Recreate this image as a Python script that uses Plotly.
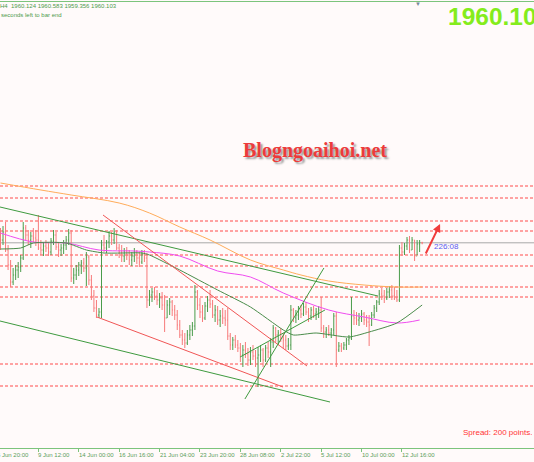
import plotly.graph_objects as go

W, H = 534, 462

# XAUUSD H4 bars (bar index on x)
highs = [1967.5, 1968.5, 1970.5, 1959, 1951.5, 1947.5, 1949, 1950.5, 1954, 1970.5,
         1969, 1966.5, 1965.5, 1967.5, 1966.5, 1974, 1961.5, 1960.5, 1961.5, 1960,
         1962.5, 1966.5, 1965.5, 1960.5, 1959.5, 1961.5, 1963.5, 1967, 1966.5, 1947.5,
         1949, 1950.5, 1951.5, 1952.5, 1955.5, 1954, 1944, 1936.5, 1931.5, 1927.5,
         1961.5, 1964, 1961.5, 1966, 1965.5, 1967.5, 1966.5, 1959.5, 1959, 1957.5,
         1958, 1956.5, 1955.5, 1957.5, 1956.5, 1955.5, 1956.5, 1956.5, 1955, 1936.5,
         1937.5, 1938, 1936.5, 1935, 1935.5, 1934, 1931.5, 1932.5, 1931.5, 1929,
         1926.5, 1921.5, 1916.5, 1915, 1916.5, 1919, 1920.5, 1939, 1936.5, 1932.5,
         1929, 1930.5, 1933.5, 1936.5, 1931.5, 1929, 1928.5, 1926.5, 1927.5, 1926.5,
         1927.5, 1915, 1913, 1914, 1911.5, 1910, 1909, 1910.5, 1907.5, 1908,
         1909, 1906.5, 1908, 1909, 1907.5, 1909, 1910.5, 1912.5, 1919, 1918,
         1916.5, 1917.5, 1915, 1914, 1912.5, 1929, 1927.5, 1926.5, 1928.5, 1929,
         1930, 1930.5, 1927.5, 1928, 1928.5, 1927.5, 1928.5, 1933, 1919, 1918,
         1919, 1917.5, 1925, 1925.5, 1910.5, 1910, 1910.5, 1912.5, 1914, 1933,
         1926.5, 1925.5, 1925, 1926.5, 1925.5, 1924, 1924, 1925.5, 1929, 1931.5,
         1936.5, 1937.5, 1936.5, 1937.5, 1938.5, 1939, 1938, 1936.5, 1959, 1960.5,
         1960, 1963, 1963.5, 1963, 1961.5, 1961.5, 1961.5, 1960.583]
lows = [1956.5, 1959, 1955.5, 1946.5, 1938, 1939, 1941.5, 1942.5, 1945.5, 1951.5,
        1961.5, 1959, 1957.5, 1960.5, 1958.5, 1956.5, 1954, 1953.5, 1955.5, 1953.5,
        1954, 1959, 1956.5, 1953, 1953.5, 1954.5, 1956.5, 1959, 1940.5, 1939.5,
        1941.5, 1943.5, 1944.5, 1945.5, 1938.5, 1939, 1931.5, 1925.5, 1922.5, 1922.5,
        1922.5, 1955.5, 1955, 1957.5, 1959, 1959.5, 1956.5, 1952.5, 1950.5, 1950.5,
        1951.5, 1949, 1948.5, 1950.5, 1949.5, 1948, 1949.5, 1950.5, 1927.5, 1928.5,
        1930.5, 1931.5, 1929, 1927.5, 1926.5, 1915.5, 1922.5, 1924, 1923.5, 1921.5,
        1916.5, 1912.5, 1909, 1907.5, 1909, 1911.5, 1913.5, 1916.5, 1926.5, 1922.5,
        1920.5, 1921.5, 1925.5, 1927.5, 1922.5, 1920.5, 1919, 1918, 1919.5, 1918.5,
        1911.5, 1906.5, 1906.5, 1907.5, 1905.5, 1900.5, 1898, 1902.5, 1898.5, 1899,
        1901.5, 1898, 1888, 1900.5, 1898, 1900.5, 1902.5, 1898, 1907.5, 1910.5,
        1909, 1910.5, 1907.5, 1906.5, 1906.5, 1906.5, 1920.5, 1920, 1921.5, 1922.5,
        1923.5, 1924, 1920.5, 1921.5, 1922.5, 1921.5, 1922.5, 1915.5, 1912.5, 1912.5,
        1913.5, 1912.5, 1914, 1898, 1905.5, 1905.5, 1906.5, 1906.5, 1909, 1911.5,
        1919, 1919, 1918.5, 1920.5, 1919, 1918, 1908.5, 1918.5, 1922.5, 1925.5,
        1929, 1931.5, 1930, 1931.5, 1932.5, 1931.5, 1931.5, 1930.5, 1930.5, 1953.5,
        1954, 1956.5, 1955, 1956.5, 1951, 1954, 1955.5, 1959.356]
closes = [1961.5, 1965.5, 1956.5, 1949, 1940.5, 1944, 1946.5, 1948, 1952.5, 1967.5,
          1964, 1961.5, 1963.5, 1962.5, 1961.5, 1957.5, 1956.5, 1958.5, 1957.5, 1955.5,
          1961, 1964, 1958, 1956.5, 1957.5, 1959, 1961.5, 1965, 1942.5, 1944,
          1946.5, 1949, 1950, 1947.5, 1953, 1941.5, 1933.5, 1927.5, 1924, 1925.5,
          1959, 1957.5, 1960.5, 1963.5, 1961.5, 1965.5, 1957.5, 1955.5, 1953.5, 1956,
          1954, 1951.5, 1953.5, 1955.5, 1952.5, 1950.5, 1954.5, 1952.5, 1931.5, 1934,
          1935.5, 1933.5, 1931.5, 1932.5, 1929, 1922.5, 1929, 1930.5, 1926.5, 1924,
          1919, 1914, 1911.5, 1910, 1914, 1916.5, 1918.5, 1935.5, 1929, 1925.5,
          1922.5, 1928.5, 1931.5, 1929.5, 1924, 1926.5, 1921.5, 1923.5, 1922.5, 1921.5,
          1913.5, 1909, 1911.5, 1909, 1907.5, 1904, 1906.5, 1904.5, 1901.5, 1905.5,
          1903.5, 1902.5, 1904, 1906.5, 1901.5, 1907.5, 1905.5, 1910.5, 1917.5, 1914,
          1915, 1912.5, 1911.5, 1908.5, 1909, 1926.5, 1922.5, 1924, 1926.5, 1924.5,
          1928, 1925.5, 1923.5, 1926.5, 1924.5, 1925.5, 1926.5, 1917.5, 1915.5, 1916.5,
          1915, 1916.5, 1923.5, 1906.5, 1908.5, 1907.5, 1909, 1911.5, 1912.5, 1923.5,
          1922.5, 1921.5, 1922.5, 1924.5, 1921.5, 1920.5, 1919, 1924, 1927.5, 1930.5,
          1934.5, 1933.5, 1932.5, 1935.5, 1936.5, 1933.5, 1932.5, 1931.5, 1957.5, 1955.5,
          1958.5, 1961.5, 1956.5, 1961.5, 1953.5, 1959.5, 1960.124, 1960.103]
first_open = 1962.0
opens = [first_open] + closes[:-1]
bars = list(range(len(closes)))

# moving averages
ma_slow_idx = [0, 16, 28, 47, 59, 71, 83, 99, 112, 119, 130, 144, 157, 167]
ma_slow_val = [1990, 1986.5, 1984, 1980, 1975, 1968, 1961.5, 1951.5, 1946.5, 1944, 1941, 1939, 1938, 1938]
ma_mid_idx = [0, 13, 26, 39, 53, 59, 71, 86, 99, 112, 130, 144, 157, 166]
ma_mid_val = [1965, 1960.5, 1960, 1956.5, 1956, 1955.5, 1953.5, 1946, 1943, 1935, 1926.5, 1923, 1920, 1921.5]
ma_fast_idx = [0, 8, 13, 26, 34, 41, 56, 59, 71, 86, 99, 112, 116, 125, 138, 146, 157, 167]
ma_fast_val = [1957, 1957.5, 1960, 1960, 1956.5, 1955, 1955, 1954, 1946.5, 1936.5, 1928, 1916.5, 1914,
               1915, 1913, 1915.5, 1920, 1929]

# trend lines: (bar0, price0, bar1, price1, colour)
trend_lines = [
    (-0.2, 1978, 149.5, 1933.5, "#3f9a3f"),
    (-0.2, 1921, 130.5, 1880.5, "#3f9a3f"),
    (40.6, 1974, 121.4, 1898.5, "#f05555"),
    (38.2, 1923, 111.9, 1888, "#f05555"),
    (96.8, 1882, 128.1, 1947.5, "#3f9a3f"),
    (94.9, 1903, 128.5, 1926.5, "#3f9a3f"),
]

level_prices = [1988.5, 1982.5, 1971, 1966, 1954, 1948.5, 1938, 1933, 1899.5, 1888.5]
current_price = 1960.1

tick_bars = [-1, 15, 31, 47, 63, 79, 95, 111, 127, 143, 159]
tick_text = ["6 Jun 20:00", "9 Jun 12:00", "14 Jun 00:00", "16 Jun 16:00", "21 Jun 04:00",
             "23 Jun 20:00", "28 Jun 08:00", "2 Jul 22:00", "5 Jul 12:00", "10 Jul 00:00",
             "12 Jul 16:00"]

PLOT_TOP, PLOT_BOTTOM = 2, 448


def px(x):
    return x / W


def py(y):
    return (PLOT_BOTTOM - y) / (PLOT_BOTTOM - PLOT_TOP)


fig = go.Figure()

for p in level_prices:
    fig.add_shape(type="line", xref="paper", x0=0, x1=1, y0=p, y1=p, layer="below",
                  line=dict(color="#ff4a4a", width=1, dash="3px,2px"))
fig.add_shape(type="line", xref="paper", x0=0, x1=1, y0=current_price, y1=current_price,
              layer="below", line=dict(color="#a8a8a8", width=1))

fig.add_trace(go.Ohlc(
    x=bars, open=opens, high=highs, low=lows, close=closes,
    increasing_line_color="#4a9c4a", decreasing_line_color="#f77a7a",
    line_width=1, tickwidth=0.3, hoverinfo="skip",
))

fig.add_trace(go.Scatter(x=ma_slow_idx, y=ma_slow_val, mode="lines", line_shape="spline",
                         line=dict(color="#ffac5a", width=1), hoverinfo="skip"))
fig.add_trace(go.Scatter(x=ma_mid_idx, y=ma_mid_val, mode="lines", line_shape="spline",
                         line=dict(color="#f04cf0", width=1), hoverinfo="skip"))
fig.add_trace(go.Scatter(x=ma_fast_idx, y=ma_fast_val, mode="lines", line_shape="spline",
                         line=dict(color="#4a8c4a", width=1, smoothing=0.6), hoverinfo="skip"))

for b0, p0, b1, p1, col in trend_lines:
    fig.add_trace(go.Scatter(x=[b0, b1], y=[p0, p1], mode="lines",
                             line=dict(color=col, width=1), hoverinfo="skip"))

# time labels sit to the right of their tick, as in the terminal
label_font = dict(family="Liberation Sans", size=6, color="#5aa05a")
for b, t in zip(tick_bars, tick_text):
    if b < 0:
        fig.add_annotation(x=px(-5), xref="paper", y=py(455), yref="paper", text=t,
                           showarrow=False, xanchor="left", yanchor="middle", font=label_font)
    else:
        fig.add_annotation(x=b, xref="x", y=py(455), yref="paper", text=t, xshift=-2,
                           showarrow=False, xanchor="left", yanchor="middle", font=label_font)

small = dict(family="Liberation Sans", size=6, color="#4c9a4c")
fig.add_annotation(x=px(-2), y=py(6), xref="paper", yref="paper", xanchor="left", yanchor="middle",
                   showarrow=False, text="H4  1960.124 1960.583 1959.356 1960.103", font=small)
fig.add_annotation(x=px(-1), y=py(15), xref="paper", yref="paper", xanchor="left", yanchor="middle",
                   showarrow=False, text="seconds left to bar end", font=small)
fig.add_annotation(x=px(446), y=py(16.5), xref="paper", yref="paper", xanchor="left", yanchor="middle",
                   showarrow=False, text="<b>1960.103</b>",
                   font=dict(family="Liberation Sans", size=24.5, color="#84ec1c"))
fig.add_annotation(x=px(418), y=py(4), xref="paper", yref="paper", xanchor="center", yanchor="middle",
                   showarrow=False, text="▼", font=dict(size=6, color="#778899"))
fig.add_annotation(x=px(314.5), y=py(151), xref="paper", yref="paper", xanchor="center", yanchor="middle",
                   showarrow=False, text="<b>Blogngoaihoi.net</b>",
                   font=dict(family="Liberation Serif", size=20, color="#ec3b3b",
                             shadow="2px 2px 2px #9a9a9a"))
fig.add_annotation(x=px(432), y=py(247), xref="paper", yref="paper", xanchor="left", yanchor="middle",
                   showarrow=False, text="226:08",
                   font=dict(family="Liberation Sans", size=8, color="#5b5bf0"))
fig.add_annotation(x=px(461), y=py(432), xref="paper", yref="paper", xanchor="left", yanchor="middle",
                   showarrow=False, text="Spread: 200 points.",
                   font=dict(family="Liberation Sans", size=8, color="#ff3434"))
fig.add_annotation(x=174.1, y=1969.5, xref="x", yref="y", text="", showarrow=True,
                   ax=-15, ay=31, arrowhead=2, arrowsize=0.8, arrowwidth=2, arrowcolor="#f03c3c")

fig.update_layout(
    width=W, height=H,
    margin=dict(l=0, r=0, t=PLOT_TOP, b=H - PLOT_BOTTOM, autoexpand=False),
    paper_bgcolor="#fffafa", plot_bgcolor="#fffafa",
    showlegend=False,
    xaxis=dict(range=[-0.2, 211.3], rangeslider=dict(visible=False), showgrid=False, zeroline=False,
               showline=True, linecolor="#7cc47c", linewidth=1, mirror=True,
               tickvals=tick_bars, ticks="outside", ticklen=3, tickcolor="#7cc47c",
               showticklabels=False),
    yaxis=dict(range=[1857.5, 2080.5], showgrid=False, zeroline=False, showticklabels=False),
)

# the page's default 8px body margin would shift the chart off the window
fig.write_html("out.html", config={"displayModeBar": False},
               post_script="document.body.style.margin='0';"
                           "document.body.style.background='#fffafa';")
